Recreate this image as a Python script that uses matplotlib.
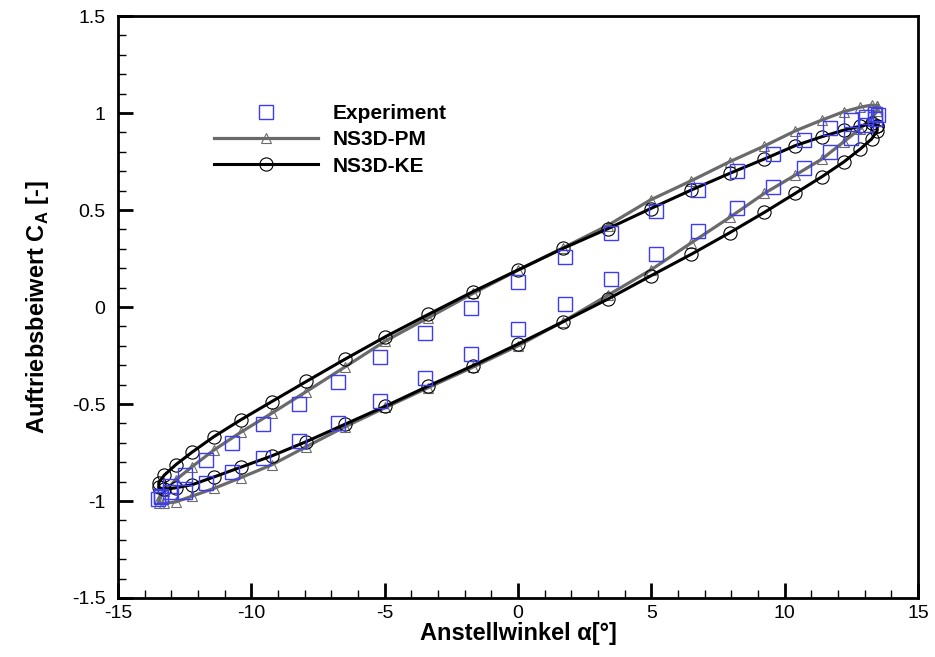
import matplotlib.pyplot as plt
import numpy as np

plt.rcParams['font.family'] = ['Liberation Sans', 'DejaVu Sans']
plt.rcParams['axes.unicode_minus'] = False
plt.rcParams['mathtext.fontset'] = 'custom'
plt.rcParams['mathtext.bf'] = 'Liberation Sans:bold'
plt.rcParams['mathtext.rm'] = 'Liberation Sans'

# Experiment: obere Kurve (alpha faellt), dann untere Kurve (alpha steigt)
exp_alpha_up = [13.50, 13.38, 13.04, 12.47, 11.69, 10.71, 9.55, 8.22, 6.75, 5.17, 3.49, 1.76, 0.0,
                -1.76, -3.49, -5.17, -6.75, -8.22, -9.55, -10.71, -11.69, -12.47, -13.04, -13.38, -13.50]
exp_ca_up = [0.99, 0.995, 0.981, 0.964, 0.921, 0.861, 0.787, 0.701, 0.603, 0.495, 0.38, 0.256, 0.127,
             -0.004, -0.132, -0.26, -0.386, -0.50, -0.605, -0.703, -0.789, -0.866, -0.923, -0.978, -0.99]
exp_alpha_down = [-13.38, -13.04, -12.47, -11.69, -10.71, -9.55, -8.22, -6.75, -5.17, -3.49, -1.76, 0.0,
                  1.76, 3.49, 5.17, 6.75, 8.22, 9.55, 10.71, 11.69, 12.47, 13.04, 13.38]
exp_ca_down = [-0.975, -0.955, -0.952, -0.909, -0.852, -0.78, -0.69, -0.596, -0.485, -0.368, -0.242, -0.115,
               0.014, 0.143, 0.272, 0.393, 0.509, 0.619, 0.715, 0.801, 0.873, 0.938, 0.97]

# Rechnungen (NS3D)
cfd_alpha_up = [13.47, 13.26, 12.84, 12.22, 11.40, 10.40, 9.24, 7.94, 6.50, 4.97, 3.36, 1.69, 0.0,
                -1.69, -3.36, -4.97, -6.50, -7.94, -9.24, -10.40, -11.40, -12.22, -12.84, -13.26, -13.47]
cfd_alpha_down = [-13.47, -13.26, -12.84, -12.22, -11.40, -10.40, -9.24, -7.94, -6.50, -4.97, -3.36, -1.69, 0.0,
                  1.69, 3.36, 4.97, 6.50, 7.94, 9.24, 10.40, 11.40, 12.22, 12.84, 13.26, 13.47]

ke_ca_up = [0.935, 0.946, 0.932, 0.912, 0.878, 0.832, 0.763, 0.689, 0.603, 0.507, 0.403, 0.302, 0.191,
            0.079, -0.038, -0.153, -0.27, -0.384, -0.488, -0.582, -0.668, -0.748, -0.814, -0.866, -0.905]
ke_ca_down = [-0.93, -0.94, -0.932, -0.916, -0.876, -0.826, -0.768, -0.694, -0.605, -0.511, -0.407, -0.302, -0.191,
              -0.076, 0.04, 0.16, 0.272, 0.383, 0.488, 0.586, 0.672, 0.748, 0.815, 0.866, 0.909]

pm_ca_up = [1.036, 1.041, 1.03, 1.007, 0.964, 0.908, 0.83, 0.749, 0.651, 0.552, 0.42, 0.305, 0.19,
            0.07, -0.055, -0.175, -0.31, -0.436, -0.548, -0.646, -0.737, -0.823, -0.892, -0.95, -0.99]
pm_ca_down = [-1.01, -1.012, -1.005, -0.975, -0.935, -0.88, -0.814, -0.72, -0.618, -0.518, -0.415, -0.31, -0.2,
              -0.075, 0.06, 0.19, 0.331, 0.462, 0.586, 0.68, 0.763, 0.852, 0.92, 0.975, 1.01]

cfd_alpha = cfd_alpha_up + cfd_alpha_down + cfd_alpha_up[:1]
ke_ca = ke_ca_up + ke_ca_down + ke_ca_up[:1]
pm_ca = pm_ca_up + pm_ca_down + pm_ca_up[:1]

fig = plt.figure(figsize=(9.35, 6.57), dpi=100)
ax = fig.add_axes([118 / 935, 59 / 657, 800 / 935, 582 / 657])

ax.plot(cfd_alpha, pm_ca, color='#6a6a6a', lw=2.3, marker='^', ms=6.5,
        mfc='none', mec='#6a6a6a', mew=0.8, label='NS3D-PM', zorder=2)
ax.plot(cfd_alpha, ke_ca, color='black', lw=2.2, marker='o', ms=9.5,
        mfc='none', mec='black', mew=0.8, label='NS3D-KE', zorder=3)
ax.plot(exp_alpha_up + exp_alpha_down, exp_ca_up + exp_ca_down, ls='none', marker='s', ms=9.5,
        mfc='none', mec='#3c3cf5', mew=1.0, label='Experiment', zorder=4)

ax.set_xlim(-15, 15)
ax.set_ylim(-1.5, 1.5)
ax.set_xticks(np.arange(-15, 16, 5))
ax.set_yticks([-1.5, -1, -0.5, 0, 0.5, 1, 1.5])
ax.set_yticklabels(['-1.5', '-1', '-0.5', '0', '0.5', '1', '1.5'])
ax.set_xticks(np.arange(-15, 16, 1), minor=True)
ax.set_yticks(np.arange(-1.5, 1.51, 0.1), minor=True)
ax.tick_params(which='major', direction='in', length=11, width=2, labelsize=14,
               top=False, right=False)
ax.tick_params(axis='y', which='major', pad=9)
ax.tick_params(axis='x', which='major', pad=5)
ax.tick_params(which='minor', direction='in', length=6, width=1, top=False, right=False)
for s in ax.spines.values():
    s.set_linewidth(2)

ax.set_xlabel('Anstellwinkel α[°]', fontsize=17, fontweight='bold', labelpad=0)
ax.set_ylabel(r'Auftriebsbeiwert C$_{\mathbf{A}}$ [-]', fontsize=17, fontweight='bold', labelpad=15)

h, l = ax.get_legend_handles_labels()
order = [2, 0, 1]
ax.legend([h[i] for i in order], [l[i] for i in order], loc='upper left',
          bbox_to_anchor=((214 - 118) / 800, (598 - 104) / 582), frameon=False,
          borderpad=0, borderaxespad=0, handlelength=5.0, handletextpad=0.7,
          labelspacing=0.35, numpoints=1, prop={'weight': 'bold', 'size': 15})

fig.savefig('out.png', dpi=100)
